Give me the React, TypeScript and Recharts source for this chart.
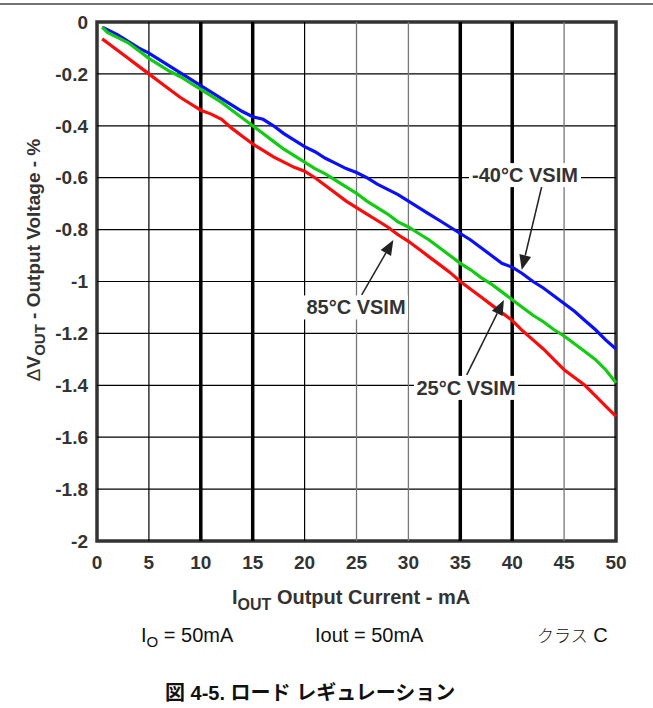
import React from 'react';
import { LineChart, Line, XAxis, YAxis, ReferenceLine, ReferenceArea, ReferenceDot } from 'recharts';

const currents = [0.5, 1, 2, 3, 4, 5, 6, 7, 8, 9, 10, 11, 12, 13, 14, 15, 16, 17, 18, 19, 20, 21, 22, 23, 24, 25, 26, 27, 28, 29, 30, 31, 32, 33, 34, 35, 36, 37, 38, 39, 40, 41, 42, 43, 44, 45, 46, 47, 48, 49, 50];
const vsimMinus40 = [-0.02, -0.03, -0.05, -0.075, -0.1, -0.12, -0.145, -0.17, -0.195, -0.22, -0.245, -0.27, -0.295, -0.32, -0.345, -0.365, -0.375, -0.4, -0.43, -0.455, -0.48, -0.5, -0.525, -0.545, -0.565, -0.58, -0.6, -0.625, -0.645, -0.665, -0.69, -0.715, -0.74, -0.765, -0.79, -0.815, -0.84, -0.87, -0.9, -0.93, -0.945, -0.97, -1.0, -1.025, -1.055, -1.085, -1.115, -1.15, -1.185, -1.225, -1.26];
const vsim25 = [-0.02, -0.04, -0.06, -0.08, -0.11, -0.14, -0.165, -0.19, -0.21, -0.235, -0.26, -0.285, -0.31, -0.34, -0.37, -0.4, -0.43, -0.46, -0.49, -0.515, -0.54, -0.565, -0.585, -0.61, -0.635, -0.66, -0.69, -0.715, -0.74, -0.77, -0.79, -0.815, -0.84, -0.87, -0.9, -0.93, -0.955, -0.985, -1.01, -1.04, -1.07, -1.1, -1.13, -1.155, -1.185, -1.21, -1.24, -1.27, -1.3, -1.34, -1.39];
const vsim85 = [-0.065, -0.08, -0.11, -0.14, -0.17, -0.2, -0.23, -0.26, -0.29, -0.315, -0.34, -0.355, -0.375, -0.41, -0.44, -0.47, -0.495, -0.52, -0.54, -0.56, -0.575, -0.6, -0.63, -0.66, -0.69, -0.715, -0.74, -0.765, -0.79, -0.82, -0.845, -0.875, -0.905, -0.935, -0.965, -1.0, -1.03, -1.06, -1.09, -1.12, -1.15, -1.19, -1.225, -1.26, -1.3, -1.34, -1.37, -1.4, -1.44, -1.48, -1.52];

const xTicks = [0, 5, 10, 15, 20, 25, 30, 35, 40, 45, 50];
const yTicks = [0, -0.2, -0.4, -0.6, -0.8, -1, -1.2, -1.4, -1.6, -1.8, -2];
const thickGridX = [10, 15, 35, 40];
const thinBlackGridX = [5, 20];
const thinGrayGridX = [25, 30, 45];
const gridY = [-0.2, -0.4, -0.6, -0.8, -1, -1.2, -1.4, -1.6, -1.8];

const annotations = [
  { text: '-40°C VSIM', w: 112, lx: 41.23, ly: -0.59, tx: 42.84, ty: -0.635, hx: 40.92, hy: -0.956 },
  { text: '85°C VSIM', w: 104, lx: 24.95, ly: -1.1, tx: 25.5, ty: -1.052, hx: 28.55, hy: -0.84 },
  { text: '25°C VSIM', w: 104, lx: 35.55, ly: -1.41, tx: 35.62, ty: -1.36, hx: 39.2, hy: -1.071 },
];

const data = currents.map((c, i) => ({ c, m40: vsimMinus40[i], t25: vsim25[i], t85: vsim85[i] }));

const FONT = '"Liberation Sans", Arial, Helvetica, sans-serif';
const TEXT = '#333333';

const Arrow = (props: any) => {
  const { x1, y1, x2, y2 } = props;
  const dx = x2 - x1;
  const dy = y2 - y1;
  const len = Math.sqrt(dx * dx + dy * dy) || 1;
  const ux = dx / len;
  const uy = dy / len;
  const hl = 15;
  const hw = 6;
  const bx = x2 - ux * hl;
  const by = y2 - uy * hl;
  const px = -uy * hw;
  const py = ux * hw;
  return (
    <g>
      <line x1={x1} y1={y1} x2={bx} y2={by} stroke="#222" strokeWidth={1.5} />
      <polygon points={`${x2},${y2} ${bx + px},${by + py} ${bx - px},${by - py}`} fill="#222" />
    </g>
  );
};

const makeLabel = (text: string, w: number) => (props: any) => {
  const { cx, cy } = props;
  return (
    <g>
      <rect x={cx - w / 2} y={cy - 12} width={w} height={24} fill="#fff" />
      <text x={cx} y={cy + 7} textAnchor="middle" fontFamily={FONT} fontWeight="bold" fontSize={20} fill={TEXT}>
        {text}
      </text>
    </g>
  );
};

export default function App() {
  return (
    <div style={{ position: 'absolute', left: 0, top: 0, width: 653, height: 708, background: '#fff' }}>
      <LineChart
        width={653}
        height={708}
        data={data}
        margin={{ top: 22, right: 37, bottom: 137, left: 37 }}
      >
        <XAxis
          type="number"
          dataKey="c"
          domain={[0, 50]}
          ticks={xTicks}
          axisLine={false}
          tickLine={false}
          tickSize={6}
          tickMargin={9}
          height={30}
          interval={0}
          tick={{ fontFamily: FONT, fontWeight: 'bold', fontSize: 19, fill: TEXT }}
        />
        <YAxis
          type="number"
          domain={[-2, 0]}
          ticks={yTicks}
          axisLine={false}
          tickLine={false}
          tickSize={6}
          tickMargin={3}
          width={60}
          interval={0}
          tick={{ fontFamily: FONT, fontWeight: 'bold', fontSize: 19, fill: TEXT }}
        />
        {gridY.map((v) => (
          <ReferenceLine key={`gy${v}`} y={v} stroke="#000" strokeWidth={1.2} />
        ))}
        {thinGrayGridX.map((v) => (
          <ReferenceLine key={`gg${v}`} x={v} stroke="#777" strokeWidth={1.3} />
        ))}
        {thinBlackGridX.map((v) => (
          <ReferenceLine key={`gb${v}`} x={v} stroke="#000" strokeWidth={1.2} />
        ))}
        {thickGridX.map((v) => (
          <ReferenceLine key={`gt${v}`} x={v} stroke="#000" strokeWidth={3.5} />
        ))}
        <Line type="linear" dataKey="m40" stroke="#0a10ff" strokeWidth={3.2} dot={false} isAnimationActive={false} />
        <Line type="linear" dataKey="t85" stroke="#ff0a0a" strokeWidth={3.2} dot={false} isAnimationActive={false} />
        <Line type="linear" dataKey="t25" stroke="#12cc12" strokeWidth={3.2} dot={false} isAnimationActive={false} />
        <ReferenceArea x1={0} x2={50} y1={-2} y2={0} fill="none" fillOpacity={0} stroke="#333" strokeWidth={3.5} ifOverflow="visible" />
        {annotations.map((a) => (
          <ReferenceLine
            key={`ar${a.text}`}
            segment={[{ x: a.tx, y: a.ty }, { x: a.hx, y: a.hy }]}
            shape={Arrow}
            ifOverflow="visible"
          />
        ))}
        {annotations.map((a) => (
          <ReferenceDot key={`lb${a.text}`} x={a.lx} y={a.ly} r={0} shape={makeLabel(a.text, a.w)} ifOverflow="visible" />
        ))}
      </LineChart>
      <svg width={653} height={708} style={{ position: 'absolute', left: 0, top: 0, pointerEvents: 'none' }}>
        <line x1={0} y1={4} x2={653} y2={4} stroke="#444" strokeWidth={1.5} />
        <text
          transform="rotate(-90)"
          x={-260}
          y={40}
          textAnchor="middle"
          fontFamily={FONT}
          fontWeight="bold"
          fontSize={19}
          fill={TEXT}
        >
          <tspan fontWeight="normal">Δ</tspan>
          <tspan>V</tspan>
          <tspan dy={5} fontSize={15}>OUT</tspan>
          <tspan dy={-5}> - Output Voltage - %</tspan>
        </text>
        <text x={232} y={604} fontFamily={FONT} fontWeight="bold" fontSize={20} fill={TEXT}>
          <tspan>I</tspan>
          <tspan dy={6} fontSize={16}>OUT</tspan>
          <tspan dy={-6}> Output Current - mA</tspan>
        </text>
        <text x={141} y={642} fontFamily={FONT} fontSize={20} fill="#111">
          <tspan>I</tspan>
          <tspan dy={5} fontSize={15}>O</tspan>
          <tspan dy={-5}> = 50mA</tspan>
        </text>
        <text x={315} y={642} fontFamily={FONT} fontSize={20} fill="#111">
          Iout = 50mA
        </text>
        <text x={537} y={642} fontFamily={FONT} fontSize={20} fill="#111">
          <tspan fontFamily='"Noto Sans CJK JP", sans-serif' fontSize={17} fontWeight={300}>クラス</tspan>
          <tspan> C</tspan>
        </text>
        <text x={165} y={700} fontFamily={`${FONT}, "Noto Sans CJK JP"`} fontWeight="bold" fontSize={20} fill="#111">
          図 4-5. ロード レギュレーション
        </text>
      </svg>
    </div>
  );
}
